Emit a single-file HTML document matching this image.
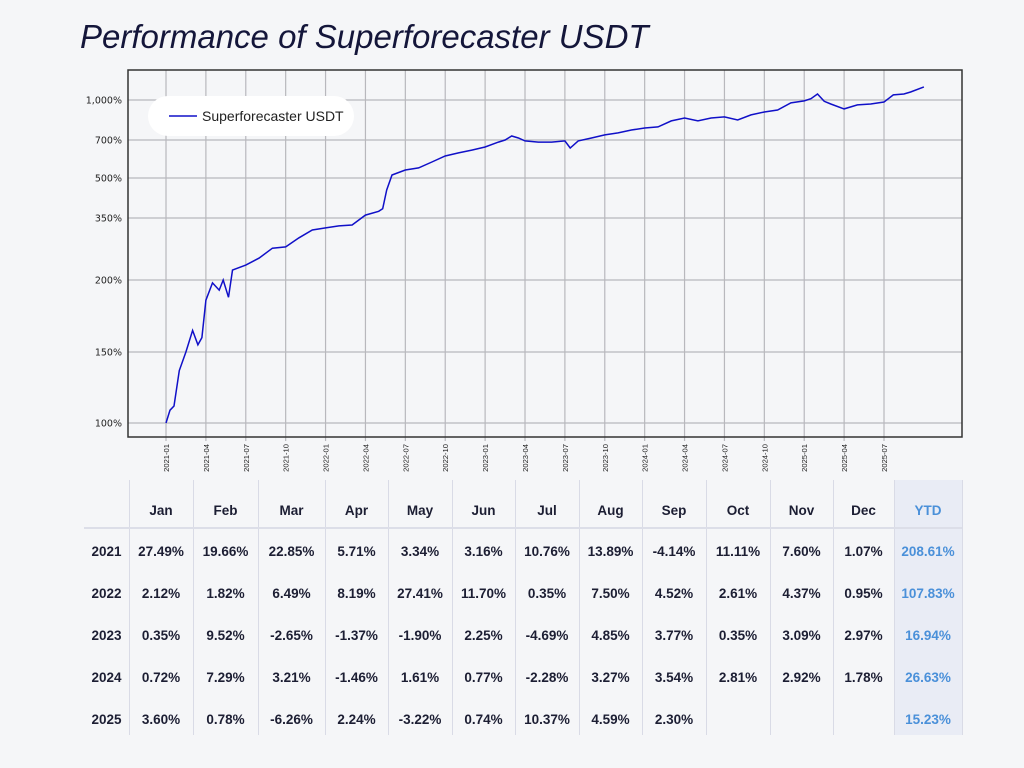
<!DOCTYPE html>
<html><head><meta charset="utf-8">
<style>
body{margin:0;width:1024px;height:768px;background:#f5f6f8;font-family:"Liberation Sans","DejaVu Sans",sans-serif;position:relative;overflow:hidden}
#title{position:absolute;left:80px;top:18px;font-size:33px;font-style:italic;color:#14163a;margin:0;font-weight:normal}
#chart{position:absolute;left:0;top:0}
.cell{position:absolute;text-align:center;font-weight:bold;font-size:13.5px;color:#1c1e33}
.vl{position:absolute;width:1px;background:#d9dbe6}
</style></head><body>
<h1 id="title">Performance of Superforecaster USDT</h1>
<svg id="chart" width="1024" height="478"></svg>
<div id="table"></div>
<script>
// monthly index from 2021-01 (0) and cumulative performance (%)
const months=[0,0.3,0.6,1,1.5,2,2.4,2.7,3,3.5,4,4.3,4.7,5,6,7,8,9,10,11,12,13,14,15,16,16.3,16.6,17,18,19,20,21,22,23,24,25,25.5,26,26.5,27,28,29,30,30.4,31,32,33,34,35,36,37,38,39,40,41,42,43,44,45,46,47,48,48.5,49,49.5,50,51,52,53,54,54.7,55.5,56,57];
const perf=[100,109,112,137,150,165,155,160,186,198,193,200,188,224,236,253,277,280,302,321,326,331,333,361,375,385,455,516,542,553,584,616,632,647,663,689,700,730,715,695,689,689,695,658,695,715,738,753,775,790,798,843,865,843,865,873,850,888,910,925,978,993,1010,1045,990,970,933,963,970,985,1038,1045,1060,1098];
const xTickLabels=["2021-01","2021-04","2021-07","2021-10","2022-01","2022-04","2022-07","2022-10","2023-01","2023-04","2023-07","2023-10","2024-01","2024-04","2024-07","2024-10","2025-01","2025-04","2025-07"];
const yTickVals=[100,150,200,350,500,700,1000];
const yTickLabels=["100%","150%","200%","350%","500%","700%","1,000%"];
const yTickPix=[423,352,280,218,178,140,100];
const NS="http://www.w3.org/2000/svg";
const svg=document.getElementById('chart');
const L=128,R=962,T=70,B=437;
function xs(m){return 166+m*(884-166)/54;}
function ys(v){
  for(let i=0;i<yTickVals.length-1;i++){
    if(v<=yTickVals[i+1]){const t=(v-yTickVals[i])/(yTickVals[i+1]-yTickVals[i]);return yTickPix[i]+t*(yTickPix[i+1]-yTickPix[i]);}
  }
  const n=yTickVals.length-1;return yTickPix[n]-(v-yTickVals[n])*(yTickPix[n-1]-yTickPix[n])/(yTickVals[n]-yTickVals[n-1]);
}
function mk(tag,a){const e=document.createElementNS(NS,tag);for(const k in a)e.setAttribute(k,a[k]);svg.appendChild(e);return e;}
mk('rect',{x:L,y:T,width:R-L,height:B-T,fill:'#f5f6f8'});
xTickLabels.forEach((lab,i)=>{
  const x=xs(i*3);
  const g=mk('line',{x1:x,x2:x,y1:T,y2:B+4,stroke:'#b8b8bd','stroke-width':1.2});
  
  
  const t=mk('text',{transform:`translate(${x+3},${B+7}) rotate(-90)`,'text-anchor':'end','font-size':7.6,fill:'#222','font-family':'Liberation Sans, sans-serif'});
  t.textContent=lab;
  
  
});
yTickVals.forEach((v,i)=>{
  const y=ys(v);
  const g=mk('line',{x1:L,x2:R,y1:y,y2:y,stroke:'#b8b8bd','stroke-width':1.2});
  
  
  const t=mk('text',{x:L-6,y:y+3.5,'text-anchor':'end','font-size':9.5,fill:'#222','font-family':'DejaVu Sans, sans-serif'});
  t.textContent=yTickLabels[i];
  
  
});
const fr=mk('rect',{x:L,y:T,width:R-L,height:B-T,fill:'none',stroke:'#333','stroke-width':1.5});


const d=months.map((m,i)=>(i?'L':'M')+xs(m).toFixed(1)+','+ys(perf[i]).toFixed(1)).join(' ');
const line=mk('path',{d:d,fill:'none',stroke:'#1010c8','stroke-width':1.5});


const lg=mk('rect',{x:148,y:96,width:206,height:40,rx:20,fill:'#ffffff'});


mk('line',{x1:169,x2:197,y1:116,y2:116,stroke:'#1010c8','stroke-width':1.6});
const lt=mk('text',{x:202,y:121,'font-size':14,fill:'#222','font-family':'Liberation Sans, sans-serif'});
lt.textContent='Superforecaster USDT';



// table
const heads=["","Jan","Feb","Mar","Apr","May","Jun","Jul","Aug","Sep","Oct","Nov","Dec","YTD"];
const rows=[
["2021","27.49%","19.66%","22.85%","5.71%","3.34%","3.16%","10.76%","13.89%","-4.14%","11.11%","7.60%","1.07%","208.61%"],
["2022","2.12%","1.82%","6.49%","8.19%","27.41%","11.70%","0.35%","7.50%","4.52%","2.61%","4.37%","0.95%","107.83%"],
["2023","0.35%","9.52%","-2.65%","-1.37%","-1.90%","2.25%","-4.69%","4.85%","3.77%","0.35%","3.09%","2.97%","16.94%"],
["2024","0.72%","7.29%","3.21%","-1.46%","1.61%","0.77%","-2.28%","3.27%","3.54%","2.81%","2.92%","1.78%","26.63%"],
["2025","3.60%","0.78%","-6.26%","2.24%","-3.22%","0.74%","10.37%","4.59%","2.30%","","","","15.23%"]];
const colX=[84,129,193,258,325,388,452,515,579,642,706,770,833,894,962];
const tb=document.getElementById('table');
const ytd=document.createElement('div');
ytd.style.cssText='position:absolute;left:894px;top:480px;width:68px;height:255px;background:#e9ecf5';


tb.appendChild(ytd);
for(let c=1;c<colX.length;c++){const v=document.createElement('div');v.className='vl';v.style.left=colX[c]+'px';v.style.top='480px';v.style.height='255px';


tb.appendChild(v);}
const hl=document.createElement('div');hl.style.cssText='position:absolute;left:84px;top:527px;width:878px;height:2px;background:#dcdee8';


tb.appendChild(hl);
function cell(txt,c,y,color,name){const e=document.createElement('div');e.className='cell';e.textContent=txt;
e.style.left=colX[c]+'px';e.style.width=(colX[c+1]-colX[c])+'px';e.style.top=(y-8)+'px';if(color)e.style.color=color;


tb.appendChild(e);}
heads.forEach((h,c)=>{if(h)cell(h,c,511,c==13?'#4a90d9':null,'header-'+h.toLowerCase());});
rows.forEach((r,ri)=>r.forEach((v,c)=>{if(v)cell(v,c,552+ri*42,c==13?'#4a90d9':null,c==0?'year-label':'return-cell');}));
</script>
</body></html>
